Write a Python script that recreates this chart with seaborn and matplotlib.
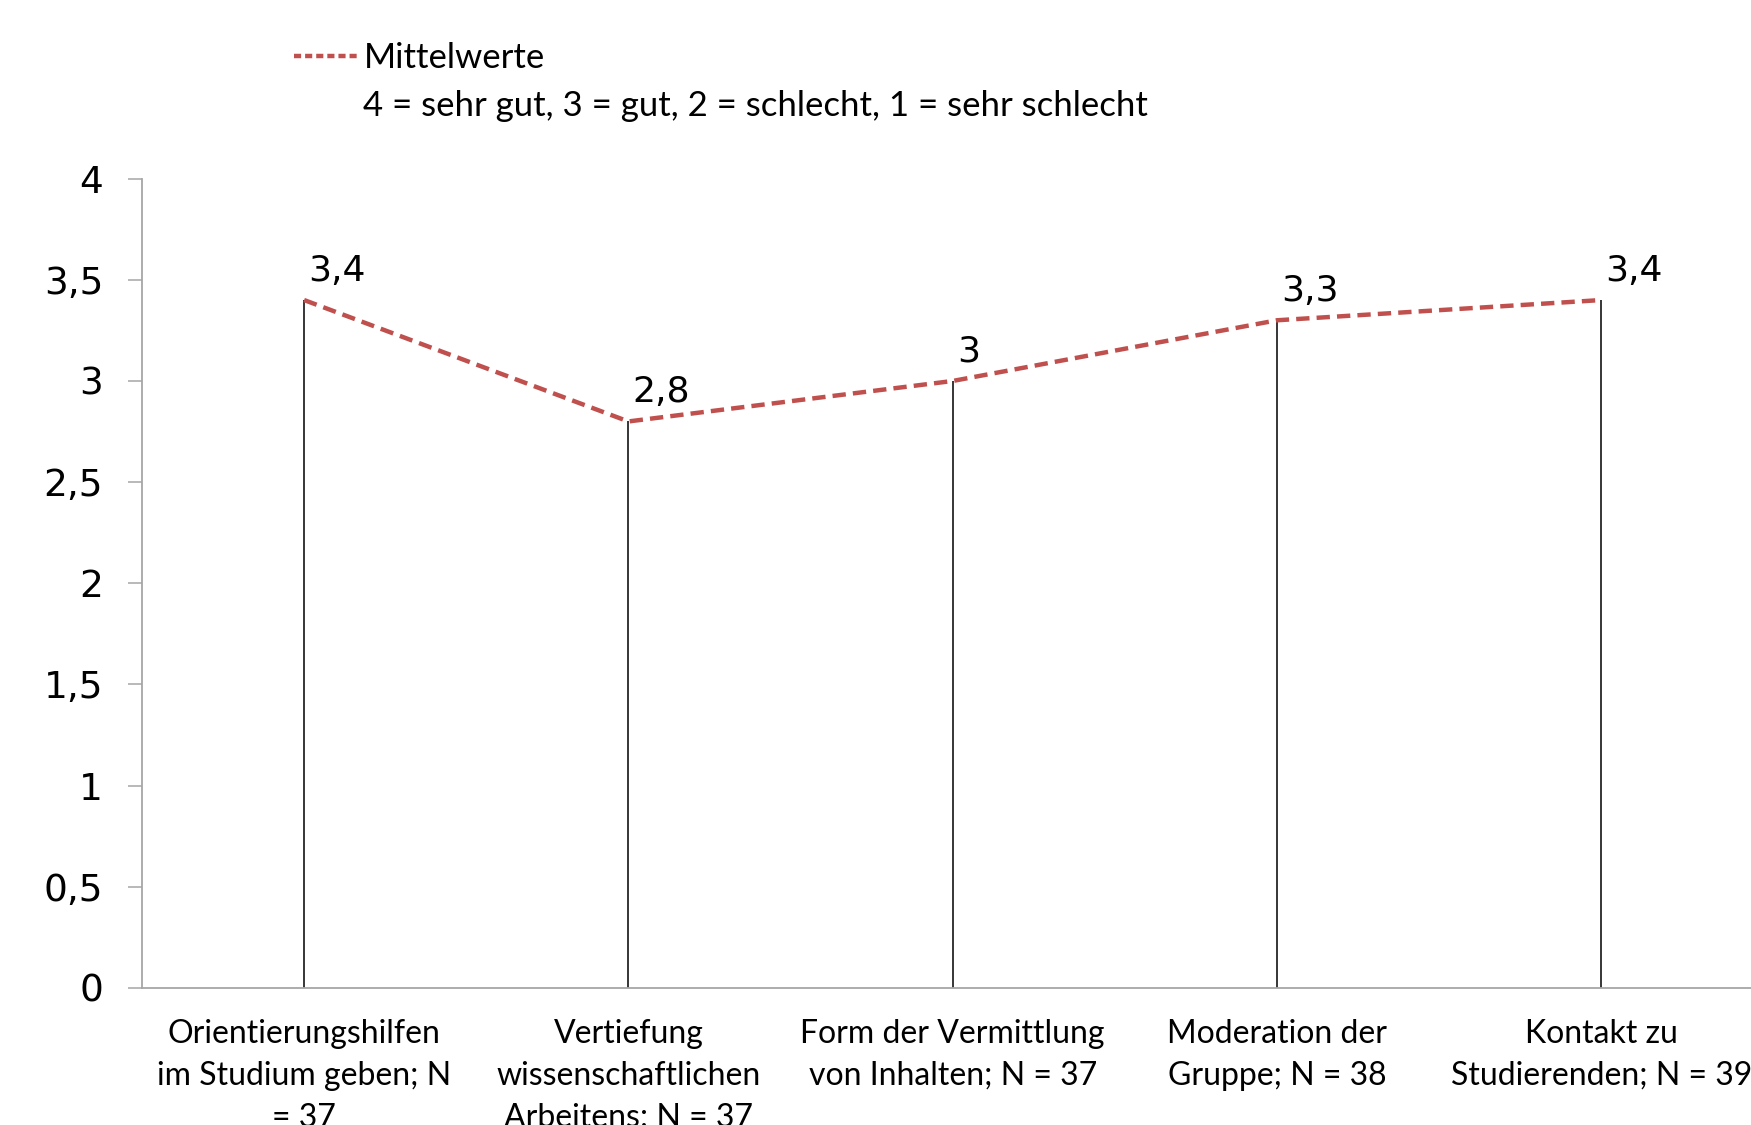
import pandas as pd
import numpy as np
from matplotlib import pyplot as plt
from matplotlib.lines import Line2D
import seaborn as sns

# data
categories = [
    "Orientierungshilfen\nim Studium geben; N\n= 37",
    "Vertiefung\nwissenschaftlichen\nArbeitens; N = 37",
    "Form der Vermittlung\nvon Inhalten; N = 37",
    "Moderation der\nGruppe; N = 38",
    "Kontakt zu\nStudierenden; N = 39",
]
mittelwerte = [3.4, 2.8, 3.0, 3.3, 3.4]
value_labels = ["3,4", "2,8", "3", "3,3", "3,4"]
y_ticks = [0, 0.5, 1, 1.5, 2, 2.5, 3, 3.5, 4]
y_ticklabels = ["0", "0,5", "1", "1,5", "2", "2,5", "3", "3,5", "4"]

df = pd.DataFrame({"kategorie": categories, "mittelwert": mittelwerte})

sns.set_style("white")
plt.rcParams["text.color"] = "black"
plt.rcParams["xtick.labelcolor"] = "black"
plt.rcParams["ytick.labelcolor"] = "black"
red = "#C0504D"
narrow = ["Lato", "DejaVu Sans"]

fig = plt.figure(figsize=(17.51, 11.25), dpi=100)
ax = fig.add_axes([0.0811, 0.1218, 0.9259, 0.7194])

sns.lineplot(data=df, x="kategorie", y="mittelwert", ax=ax, color=red,
             linewidth=3.2, sort=False)
ax.lines[0].set_dashes((3, 1.6))

# drop lines
x_pos = np.arange(len(categories))
ax.vlines(x_pos, 0, df["mittelwert"], color="black", linewidth=1.1, zorder=1)

for x, y, lab in zip(x_pos, mittelwerte, value_labels):
    ax.annotate(lab, (x, y), xytext=(3, 21), textcoords="offset points",
                ha="left", va="center", fontsize=26, color="black")

ax.set_xlim(-0.5, 4.5)
ax.set_ylim(0, 4)
ax.set_yticks(y_ticks)
ax.set_yticklabels(y_ticklabels, fontsize=27)
ax.set_xticks(x_pos)
ax.set_xticklabels(categories, fontsize=23, family=narrow, linespacing=1.5)
ax.tick_params(axis="y", length=10, width=1.1, color="#A6A6A6", left=True, pad=18)
ax.tick_params(axis="x", length=0, pad=22)
ax.set_xlabel("")
ax.set_ylabel("")
for side in ["top", "right"]:
    ax.spines[side].set_visible(False)
for side in ["left", "bottom"]:
    ax.spines[side].set_color("#A6A6A6")
    ax.spines[side].set_linewidth(1.3)

handles = [Line2D([], [], color=red, linewidth=3.2, dashes=(1.6, 0.9)),
           Line2D([], [], color="none")]
leg = fig.legend(handles, ["Mittelwerte", "4 = sehr gut, 3 = gut, 2 = schlecht, 1 = sehr schlecht"],
                 loc="upper left", bbox_to_anchor=(0.16, 0.975), frameon=False,
                 prop={"family": narrow, "size": 25}, handlelength=1.85,
                 handletextpad=0.15, labelspacing=0.45, borderaxespad=0)

fig.savefig("out.png", dpi=100)
